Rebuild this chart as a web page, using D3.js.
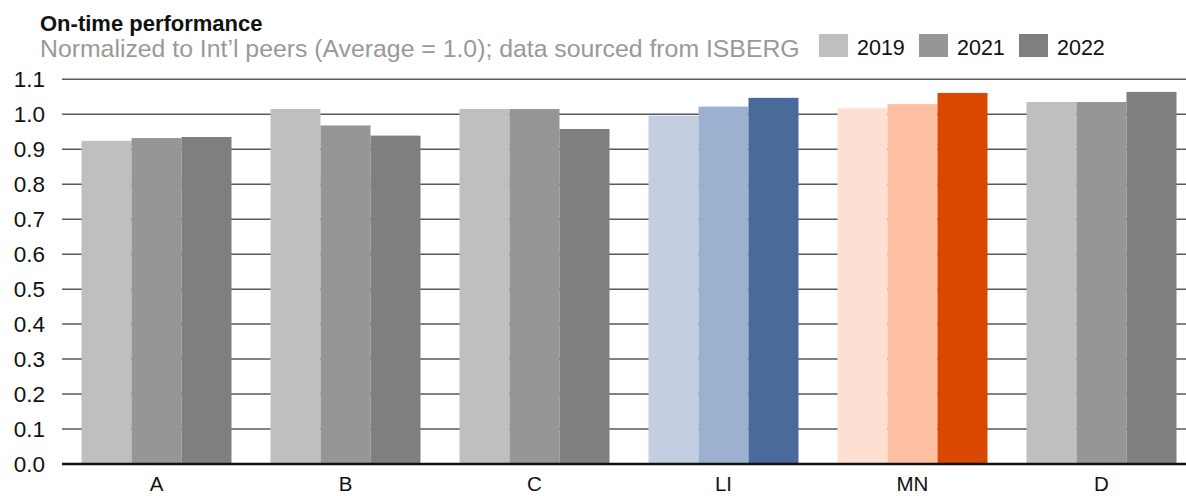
<!DOCTYPE html>
<html>
<head>
<meta charset="utf-8">
<script src="https://cdn.jsdelivr.net/npm/d3@7"></script>
<style>
  body { margin: 0; background: #fff; }
  svg { display: block; font-family: "Liberation Sans", Arial, sans-serif; }
</style>
</head>
<body>
<svg id="root" width="1186" height="496"></svg>
<script>
(function () {
  let categories = ["A", "B", "C", "LI", "MN", "D"];
  let years = ["2019", "2021", "2022"];
  let values2019 = [0.924, 1.015, 1.015, 0.996, 1.017, 1.035];
  let values2021 = [0.932, 0.968, 1.015, 1.022, 1.029, 1.035];
  let values2022 = [0.935, 0.939, 0.958, 1.047, 1.061, 1.064];
  let yTicks = [0, 0.1, 0.2, 0.3, 0.4, 0.5, 0.6, 0.7, 0.8, 0.9, 1.0, 1.1];

  let grayColors = ["#bfbfbf", "#969696", "#7f7f7f"];
  let blueColors = ["#c3cee0", "#9cb0cf", "#4a6a9b"];
  let orangeColors = ["#fde0d1", "#fdc0a2", "#d94700"];

  let palette = { LI: blueColors, MN: orangeColors };

  let series = [values2019, values2021, values2022];

  let svg = d3.select("#root");

  let left = 62, right = 1196, top = 79.3, bottom = 464;

  let x0 = d3.scaleBand()
    .domain(categories)
    .range([left, right])
    .paddingInner(39 / 189)
    .paddingOuter(39 / 189 / 2);

  let x1 = d3.scaleBand()
    .domain(years)
    .range([0, x0.bandwidth()]);

  let y = d3.scaleLinear()
    .domain([0, 1.1])
    .range([bottom, top]);

  // gridlines
  svg.append("g")
    .selectAll("line")
    .data(yTicks.filter(d => d > 0))
    .enter().append("line")
    .attr("x1", left)
    .attr("x2", 1186)
    .attr("y1", d => y(d))
    .attr("y2", d => y(d))
    .attr("stroke", "#595959")
    .attr("stroke-width", 1.5);

  // bars
  let groups = svg.append("g")
    .selectAll("g")
    .data(categories)
    .enter().append("g")
    .attr("transform", d => `translate(${x0(d)},0)`);

  groups.selectAll("rect")
    .data((cat, i) => years.map((yr, j) => ({ cat: cat, year: yr, j: j, value: series[j][i] })))
    .enter().append("rect")
    .attr("x", d => x1(d.year))
    .attr("width", x1.bandwidth())
    .attr("y", d => y(d.value))
    .attr("height", d => y(0) - y(d.value))
    .attr("fill", d => (palette[d.cat] || grayColors)[d.j]);

  // y axis labels
  svg.append("g")
    .selectAll("text")
    .data(yTicks)
    .enter().append("text")
    .attr("x", 45)
    .attr("y", d => y(d))
    .attr("dy", "0.36em")
    .attr("text-anchor", "end")
    .style("font-size", "22.5px")
    .style("fill", "#111")
    .text(d => d3.format(".1f")(d));

  // baseline
  svg.append("line")
    .attr("x1", left)
    .attr("x2", 1186)
    .attr("y1", y(0))
    .attr("y2", y(0))
    .attr("stroke", "#111")
    .attr("stroke-width", 2.5);

  // x labels
  svg.append("g")
    .selectAll("text")
    .data(categories)
    .enter().append("text")
    .attr("x", d => x0(d) + x0.bandwidth() / 2)
    .attr("y", 491)
    .attr("text-anchor", "middle")
    .style("font-size", "20.5px")
    .style("fill", "#111")
    .text(d => d);

  // title
  svg.append("text")
    .attr("x", 40)
    .attr("y", 31)
    .style("font-size", "22px")
    .style("font-weight", "bold")
    .style("fill", "#111")
    .text("On-time performance");

  svg.append("text")
    .attr("x", 40)
    .attr("y", 57)
    .style("font-size", "24.8px")
    .style("fill", "#999")
    .text("Normalized to Int\u2019l peers (Average = 1.0); data sourced from ISBERG");

  // legend
  let legendX = [819, 919, 1019];
  let legend = svg.append("g")
    .selectAll("g")
    .data(years)
    .enter().append("g")
    .attr("transform", (d, i) => `translate(${legendX[i]},34)`);

  legend.append("rect")
    .attr("width", 29)
    .attr("height", 23)
    .attr("fill", (d, i) => grayColors[i]);

  legend.append("text")
    .attr("x", 38)
    .attr("y", 21)
    .style("font-size", "21.5px")
    .style("fill", "#111")
    .text(d => d);
})();
</script>
</body>
</html>
